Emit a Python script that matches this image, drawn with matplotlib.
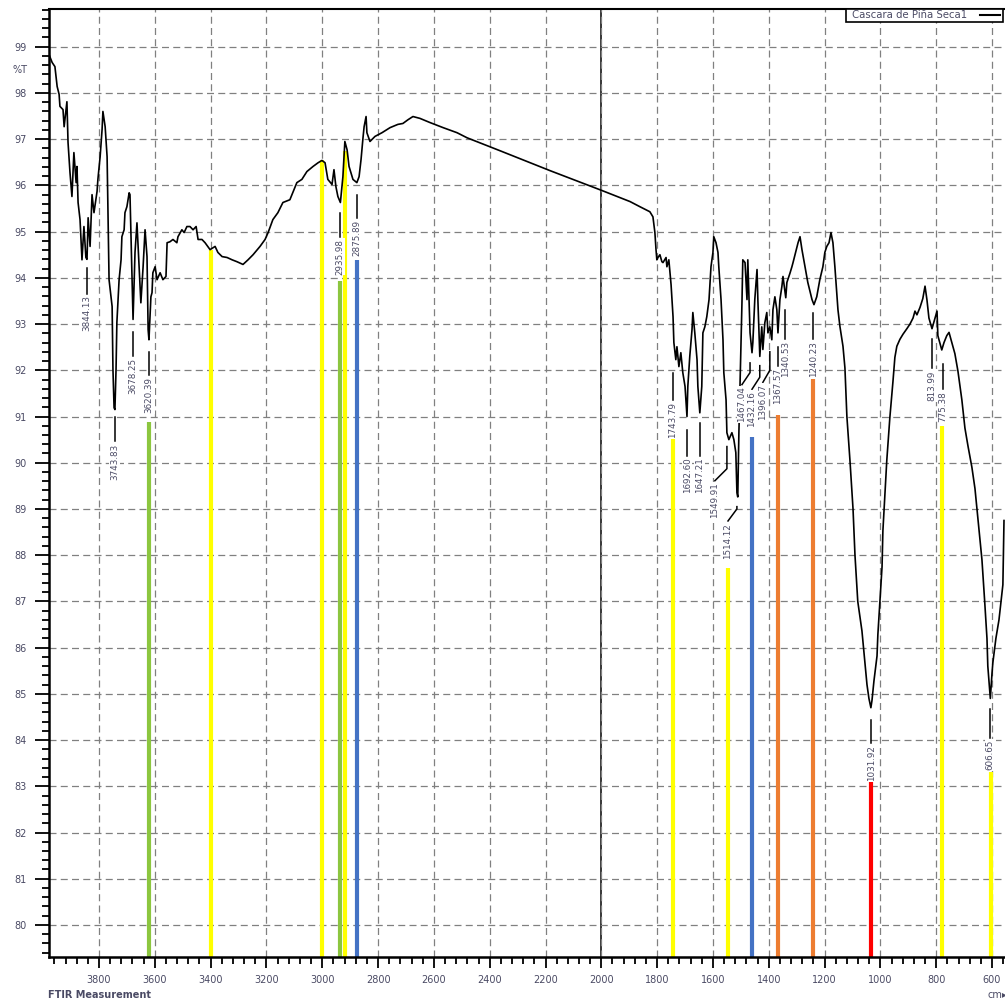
import matplotlib
matplotlib.use("Agg")
import matplotlib.pyplot as plt
from matplotlib.ticker import MultipleLocator, FixedLocator
from matplotlib.lines import Line2D
from matplotlib.patches import Rectangle

# FTIR spectrum: wavenumber (cm-1) and transmittance (%T)
wavenumber = [
    3979, 3968, 3958, 3950, 3943, 3940, 3929, 3925, 3915, 3911, 3904, 3897, 3890, 3882, 3879,
    3875, 3868, 3861, 3854, 3847, 3843, 3839, 3832, 3825, 3818, 3807, 3804, 3796, 3789, 3786,
    3778, 3771, 3764, 3753, 3750, 3746, 3743, 3739, 3736, 3728, 3721, 3718, 3710, 3707, 3700,
    3692, 3689, 3682, 3678, 3671, 3664, 3657, 3650, 3642, 3635, 3628, 3624, 3621, 3614, 3610,
    3607, 3599, 3592, 3581, 3571, 3560, 3556, 3546, 3535, 3521, 3517, 3503, 3495, 3485, 3474,
    3463, 3452, 3445, 3431, 3420, 3402, 3384, 3374, 3359, 3341, 3323, 3306, 3284, 3266, 3248,
    3223, 3205, 3194, 3177, 3159, 3141, 3116, 3091, 3073, 3055, 3033, 3015, 3001, 2990, 2980,
    2965, 2958, 2951, 2944, 2935, 2926, 2919, 2911, 2904, 2890, 2876, 2868, 2861, 2854, 2850,
    2843, 2840, 2829, 2811, 2786, 2757, 2729, 2711, 2693, 2675, 2650, 2614, 2567, 2517, 2481,
    2363, 2184, 1998, 1897, 1862, 1826, 1815, 1808, 1804, 1801, 1797, 1790, 1783, 1779, 1768,
    1765, 1758, 1750, 1743, 1740, 1733, 1729, 1722, 1715, 1708, 1700, 1693, 1690, 1683, 1675,
    1672, 1665, 1657, 1654, 1647, 1640, 1636, 1629, 1622, 1614, 1607, 1600, 1597, 1589, 1582,
    1579, 1571, 1564, 1561, 1553, 1550, 1543, 1532, 1525, 1518, 1514, 1511, 1507, 1503, 1496,
    1493, 1485, 1478, 1475, 1467, 1460, 1457, 1450, 1442, 1439, 1432, 1425, 1421, 1414, 1407,
    1403, 1396, 1389, 1385, 1378, 1371, 1367, 1360, 1353, 1349, 1339, 1335, 1324, 1317, 1313,
    1303, 1295, 1288, 1281, 1270, 1260, 1245, 1238, 1228, 1217, 1206, 1199, 1192, 1184, 1177,
    1170, 1163, 1152, 1145, 1134, 1127, 1120, 1109, 1098, 1091, 1081, 1066, 1059, 1048, 1041,
    1034, 1030, 1023, 1012, 1009, 1002, 994, 991, 984, 977, 966, 955, 948, 941, 930,
    919, 905, 894, 883, 876, 869, 858, 848, 840, 833, 826, 815, 808, 797, 794,
    780, 772, 762, 754, 744, 733, 722, 708, 697, 686, 672, 661, 651, 636, 626,
    618, 615, 606, 600, 597, 586, 575, 568, 561, 557,
]
transmittance = [
    98.83, 98.66, 98.57, 98.14, 97.97, 97.71, 97.64, 97.27, 97.81, 96.93, 96.28, 95.76, 96.71, 96.06, 96.41,
    95.63, 95.26, 94.39, 95.11, 94.44, 94.40, 95.30, 94.68, 95.80, 95.41, 95.87, 96.13, 96.62, 97.21, 97.60,
    97.27, 96.62, 93.96, 93.38, 92.01, 91.19, 91.15, 92.01, 93.03, 93.96, 94.39, 94.89, 95.04, 95.41, 95.54,
    95.84, 95.80, 94.11, 93.10, 94.55, 95.19, 94.33, 93.46, 94.24, 95.04, 94.46, 92.88, 92.66, 93.59, 93.68,
    94.11, 94.24, 93.96, 94.11, 93.96, 94.03, 94.76, 94.78, 94.83, 94.76, 94.89, 95.04, 94.98, 95.11, 95.11,
    95.04, 95.11, 94.83, 94.83, 94.76, 94.61, 94.68, 94.55, 94.46, 94.44, 94.39, 94.35, 94.29, 94.39, 94.50,
    94.68, 94.83, 94.98, 95.26, 95.41, 95.63, 95.69, 96.06, 96.13, 96.30, 96.41, 96.49, 96.54, 96.49, 96.13,
    96.02, 96.34, 95.97, 95.76, 95.63, 96.19, 96.95, 96.77, 96.41, 96.13, 96.06, 96.19, 96.56, 97.03, 97.27,
    97.49, 97.14, 96.95, 97.06, 97.14, 97.25, 97.32, 97.34, 97.42, 97.49, 97.45, 97.36, 97.25, 97.14, 97.03,
    96.75, 96.32, 95.89, 95.65, 95.54, 95.43, 95.32, 94.98, 94.61, 94.39, 94.44, 94.50, 94.35, 94.33, 94.44,
    94.24, 94.39, 93.85, 93.16, 92.60, 92.23, 92.51, 92.08, 92.38, 91.95, 91.65, 91.00, 91.65, 92.30, 92.88,
    93.25, 92.81, 92.23, 91.65, 91.08, 91.65, 92.81, 92.94, 93.16, 93.53, 94.24, 94.55, 94.89, 94.76, 94.55,
    94.24, 93.53, 92.66, 91.95, 91.36, 90.65, 90.50, 90.65, 90.50, 90.22, 89.35, 89.26, 90.65, 91.65, 93.46,
    94.39, 94.33, 93.53, 94.39, 92.81, 92.38, 92.60, 93.53, 94.18, 93.53, 92.30, 92.94, 92.45, 93.03, 93.25,
    92.81, 92.94, 92.66, 93.31, 93.59, 93.31, 92.81, 93.53, 93.81, 94.03, 93.57, 93.90, 94.10, 94.24, 94.33,
    94.57, 94.76, 94.89, 94.61, 94.24, 93.90, 93.53, 93.42, 93.59, 93.96, 94.24, 94.55, 94.68, 94.76, 94.98,
    94.76, 94.24, 93.31, 92.95, 92.52, 92.05, 91.00, 90.05, 89.00, 88.00, 87.00, 86.36, 85.90, 85.20, 84.90,
    84.70, 84.86, 85.28, 85.82, 86.28, 86.98, 87.75, 88.52, 89.28, 90.05, 90.98, 91.75, 92.28, 92.52, 92.67,
    92.78, 92.90, 93.00, 93.13, 93.28, 93.20, 93.36, 93.55, 93.82, 93.52, 93.13, 92.90, 93.05, 93.28, 92.75,
    92.44, 92.60, 92.75, 92.82, 92.60, 92.36, 91.98, 91.36, 90.75, 90.36, 89.90, 89.44, 88.82, 87.90, 86.98,
    86.20, 85.60, 84.90, 85.44, 85.67, 86.20, 86.60, 86.98, 87.36, 88.75,
]

# Picked peaks: label text, label position (cm-1), leader start and label top (%T)
peak_labels = ["3844.13", "3743.83", "3678.25", "3620.39", "2935.98", "2875.89", "1743.79",
               "1692.60", "1647.21", "1549.91", "1514.12", "1467.04", "1432.16", "1396.07",
               "1367.57", "1340.53", "1240.23", "1031.92", "813.99", "775.38", "606.65"]
label_wn = [3844.13, 3743.83, 3678.25, 3620.39, 2935.98, 2875.89, 1743.79,
            1692.60, 1647.21, 1593.0, 1546.0, 1496.0, 1460.0, 1421.0,
            1367.57, 1340.53, 1240.23, 1031.92, 813.99, 775.38, 606.65]
leader_top = [94.22, 91.00, 92.83, 92.40, 95.41, 95.80, 91.95,
              90.71, 90.86, 90.35, 89.05, 92.16, 92.10, 92.40,
              92.51, 93.31, 93.25, 84.44, 92.67, 92.13, 84.67]
label_top = [93.62, 90.42, 92.27, 91.86, 94.85, 95.26, 91.32,
             90.11, 90.11, 89.57, 88.70, 91.65, 91.55, 91.70,
             92.05, 92.64, 92.64, 83.90, 92.00, 91.55, 84.00]

# Assignment bands drawn up from the bottom of the plot
band_wn = [3620.39, 3400, 3002, 2935.98, 2918, 2875.89, 1743.79, 1546, 1460,
           1367.57, 1240.23, 1031.92, 778, 603]
band_top = [90.89, 94.61, 96.54, 93.94, 96.75, 94.39, 90.54, 87.73, 90.56,
            91.04, 91.82, 83.10, 90.80, 83.30]
band_color = ["#8cc63f", "#ffff00", "#ffff00", "#8cc63f", "#ffff00", "#4472c4", "#ffff00",
              "#ffff00", "#4472c4", "#ed7d31", "#ed7d31", "#ff0000", "#ffff00", "#ffff00"]

series_name = "Cascara de Piña Seca1"
x_min, x_max = 3979.2, 553.4
y_min, y_max = 79.30, 99.81
text_color = "#4a4a64"

fig = plt.figure(figsize=(10.05, 10.01), dpi=100)
ax = fig.add_axes([49 / 1005, 1 - 957.3 / 1001, 1 - 49 / 1005, (957.3 - 9.3) / 1001])
ax.set_xlim(x_min, x_max)
ax.set_ylim(y_min, y_max)

# grid
ax.xaxis.set_major_locator(FixedLocator(list(range(3800, 500, -200))))
ax.xaxis.set_minor_locator(MultipleLocator(40))
ax.yaxis.set_major_locator(MultipleLocator(1))
ax.yaxis.set_minor_locator(MultipleLocator(0.2))
ax.grid(True, which="major", color="#808080", linewidth=0.9,
        linestyle=(0, (5.6, 3.4)), zorder=0)
ax.axvline(2000, color="black", linewidth=1.1, zorder=1)

ax.spines["right"].set_visible(False)
for s in ["left", "bottom"]:
    ax.spines[s].set_linewidth(1.8)
ax.spines["top"].set_linewidth(1.5)

ax.tick_params(axis="x", which="major", direction="out", length=8, width=1.3,
               pad=5, labelsize=7, labelcolor=text_color)
ax.tick_params(axis="x", which="minor", direction="out", length=5, width=1.3)
ax.tick_params(axis="y", which="major", direction="out", length=10, width=1.3,
               pad=6, labelsize=7, labelcolor=text_color)
ax.tick_params(axis="y", which="minor", direction="out", length=5, width=1.3)
ax.set_xticklabels([str(v) for v in range(3800, 500, -200)])

# assignment bands
for wn, top, col in zip(band_wn, band_top, band_color):
    ax.plot([wn, wn], [y_min, top], color=col, linewidth=3.0,
            solid_capstyle="butt", zorder=2)

# spectrum
ax.plot(wavenumber, transmittance, color="black", linewidth=1.2, zorder=4)

# peak leaders and labels
for txt, lx, lt, tt in zip(peak_labels, label_wn, leader_top, label_top):
    px = float(txt)
    if abs(px - lx) < 1:
        xs, ys = [px, px], [lt, tt + 0.04]
    else:
        xs, ys = [px, px, lx], [lt, tt + 0.3, tt + 0.04]
    ax.plot(xs, ys, color="black", linewidth=1.1, zorder=3)
    ax.text(lx, tt, txt, rotation=90, ha="center", va="top", fontsize=6.3,
            color=text_color, zorder=5,
            bbox=dict(boxstyle="square,pad=0.1", facecolor="white",
                      edgecolor="none"))

# axis annotations
fig.text(12 / 1005, 1 - 70 / 1001, "%T", fontsize=7, color=text_color,
         ha="left", va="center")
fig.text(48 / 1005, 1 - 995 / 1001, "FTIR Measurement", fontsize=7,
         color=text_color, ha="left", va="center", fontweight="bold")
fig.text(987 / 1005, 1 - 995 / 1001, "cm\u25b8", fontsize=7, color=text_color,
         ha="left", va="center")

# legend box
fig.add_artist(Rectangle((846 / 1005, 1 - 22 / 1001), 157 / 1005, 13 / 1001,
                         transform=fig.transFigure, facecolor="white",
                         edgecolor="black", linewidth=1.2, zorder=10))
fig.text(852 / 1005, 1 - 15.5 / 1001, series_name, fontsize=7.3, color=text_color,
         ha="left", va="center", zorder=11)
fig.add_artist(Line2D([980 / 1005, 1000 / 1005], [1 - 15 / 1001, 1 - 15 / 1001],
                      transform=fig.transFigure, color="black", linewidth=1.5,
                      zorder=11))

fig.savefig("out.png", dpi=100)
